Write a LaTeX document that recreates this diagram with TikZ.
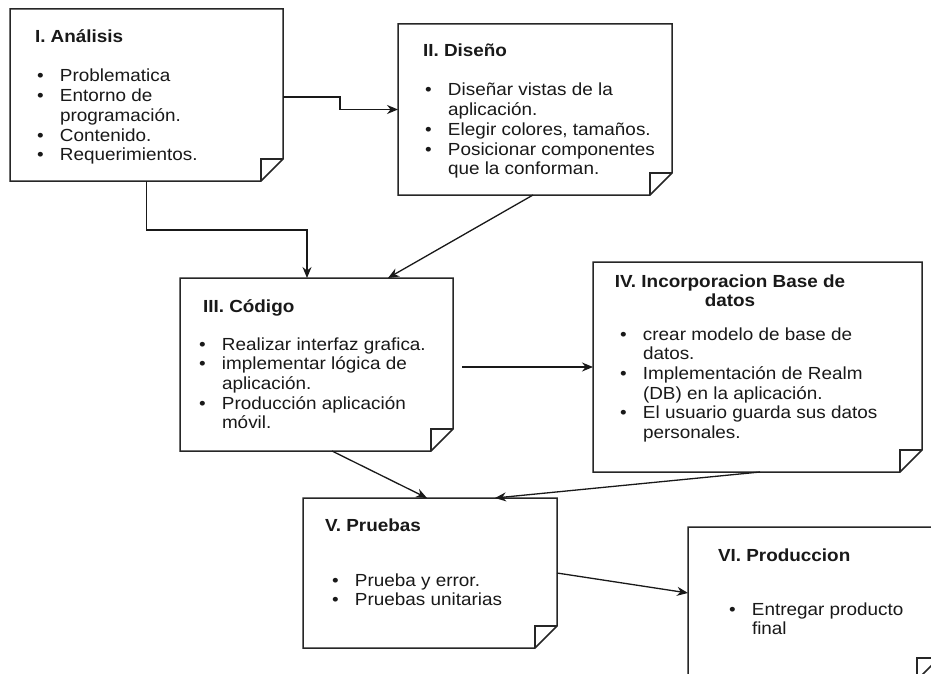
\documentclass[tikz,border=0pt]{standalone}
\usepackage{fontspec}
\setmainfont[FakeStretch=1.08]{Liberation Sans}
\usetikzlibrary{arrows.meta}
\tikzset{
  frame/.style={draw=none, inner sep=0pt, outer sep=0pt, minimum width=#1},
  boxline/.style={draw=black!85, line width=1.5pt, line join=miter},
  conn/.style={draw=black!90, line width=1.3pt, -{Stealth[length=11pt,width=9pt]}},
  txt/.style={inner sep=0pt, outer sep=0pt, text=black!90, font=\fontsize{17.5}{19.7}\selectfont},
  ttl/.style={txt, font=\fontsize{17.5}{19.7}\selectfont\bfseries}
}
\newcommand\foldbox[1]{%
  \draw[boxline] (#1.north west) -- (#1.north east) -- ([yshift=22pt]#1.south east)
    -- ([xshift=-22pt]#1.south east) -- (#1.south west) -- cycle;
  \draw[boxline] ([xshift=-22pt]#1.south east) -- ([xshift=-22pt,yshift=22pt]#1.south east)
    -- ([yshift=22pt]#1.south east);}
\newcommand\blist[1]{\begin{tabular}[t]{@{}p{23pt}@{}l@{}}#1\end{tabular}}
\begin{document}
\begin{tikzpicture}[x=1pt,y=-1pt]
\useasboundingbox (0,0) rectangle (931,674);
\clip (0,0) rectangle (931,674);
\fill[white] (0,0) rectangle (931,674);
% boxes
\node[frame=273pt, minimum height=172pt] (n1) at (146.5,95) {};
\node[frame=274pt, minimum height=171pt] (n2) at (535,109.5) {};
\node[frame=273pt, minimum height=173pt] (n3) at (316.5,364.5) {};
\node[frame=329pt, minimum height=210pt] (n4) at (757.5,367) {};
\node[frame=254pt, minimum height=150pt] (n5) at (430,573) {};
\node[frame=251pt, minimum height=153pt] (n6) at (813.5,603.5) {};
\foldbox{n1}\foldbox{n2}\foldbox{n3}\foldbox{n4}\foldbox{n5}\foldbox{n6}
% texts
\node[ttl, anchor=base west] (t1) at (35,43) {I. Análisis};
\node[txt, anchor=base west] (l1) at (37,82) {\blist{•&Problematica\\•&Entorno de\\&programación.\\•&Contenido.\\•&Requerimientos.}};
\node[ttl, anchor=base west] (t2) at (423,57) {II. Diseño};
\node[txt, anchor=base west] (l2) at (425,96) {\blist{•&Diseñar vistas de la\\&aplicación.\\•&Elegir colores, tamaños.\\•&Posicionar componentes\\&que la conforman.}};
\node[ttl, anchor=base west] (t3) at (203,312) {III. Código};
\node[txt, anchor=base west] (l3) at (199,350) {\blist{•&Realizar interfaz grafica.\\•&implementar lógica de\\&aplicación.\\•&Producción aplicación\\&móvil.}};
\node[ttl, anchor=base] (t4) at (730,287) {\begin{tabular}[t]{@{}c@{}}IV. Incorporacion Base de\\datos\end{tabular}};
\node[txt, anchor=base west] (l4) at (620,340) {\blist{•&crear modelo de base de\\&datos.\\•&Implementación de Realm\\&(DB) en la aplicación.\\•&El usuario guarda sus datos\\&personales.}};
\node[ttl, anchor=base west] (t5) at (325,531) {V. Pruebas};
\node[txt, anchor=base west] (l5) at (332,586) {\blist{•&Prueba y error.\\•&Pruebas unitarias}};
\node[ttl, anchor=base west] (t6) at (718,561) {VI. Produccion};
\node[txt, anchor=base west] (l6) at (729,615) {\blist{•&Entregar producto\\&final}};
% connectors
\draw[conn] ([yshift=-2pt]n1.east) -- ++(57,0) |- (n2.west);
\draw[conn] (n1.south) -- ++(0,49) -| ([xshift=-9.5pt]n3.north);
\draw[conn] ([xshift=-2pt]n2.south) -- ([xshift=71.5pt]n3.north);
\coordinate (c34) at (462,367);
\draw[conn] (c34) -- (c34 -| n4.west);
\draw[conn] ([xshift=15.5pt]n3.south) -- ([xshift=-3pt]n5.north);
\draw[conn] ([xshift=2.5pt]n4.south) -- ([xshift=65pt]n5.north);
\draw[conn] (n5.east) -- ([yshift=10.5pt]n6.west);
\end{tikzpicture}
\end{document}
